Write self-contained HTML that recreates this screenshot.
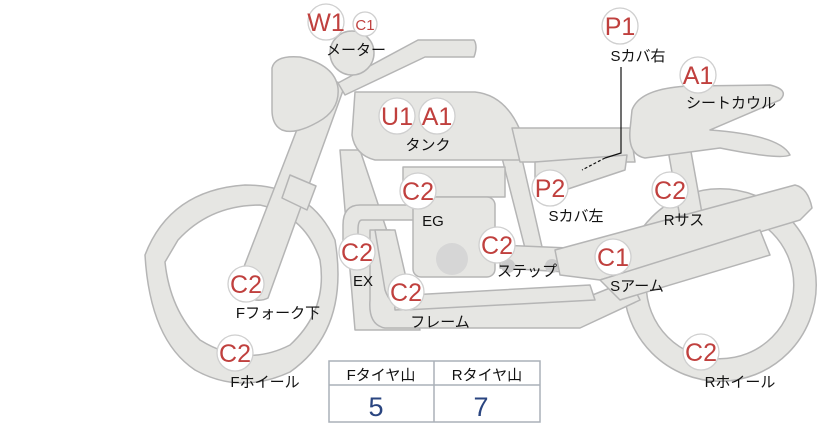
<!DOCTYPE html>
<html><head><meta charset="utf-8"><style>
html,body{margin:0;padding:0;background:#fff;}
svg{display:block}
text{font-family:"Liberation Sans","Noto Sans CJK JP",sans-serif}
.s{fill:#e6e6e3;stroke:#b5b5b5;stroke-width:1.5;stroke-linejoin:round}
.b{fill:#fff;stroke:#cfcfcf;stroke-width:1.3}
.bt{fill:#c0403e;font-size:25px;text-anchor:middle}
.l{fill:#111;font-size:15px;text-anchor:middle}
</style></head><body>
<svg width="822" height="425" viewBox="0 0 822 425" xmlns="http://www.w3.org/2000/svg">
<!-- front wheel -->
<path class="s" fill-rule="evenodd" d="M145,255 Q170,190 245,185 Q310,185 335,240 Q350,330 290,372 Q240,395 195,370 Q150,340 145,255 Z M165,262 Q170,310 200,340 Q245,368 290,345 Q328,310 320,260 Q305,215 260,205 Q210,205 178,240 L165,262 Z"/>
<!-- rear wheel -->
<circle cx="720" cy="285" r="85" fill="none" stroke="#b5b5b5" stroke-width="24"/>
<circle cx="720" cy="285" r="85" fill="none" stroke="#e6e6e3" stroke-width="21"/>
<!-- fork -->
<path class="s" d="M235,290 L318,75 L345,85 L268,298 Q255,305 235,290 Z"/>
<path class="s" d="M290,175 L316,186 L307,210 L282,198 Z"/>
<!-- frame rails -->
<path class="s" d="M340,150 L360,150 L420,330 L355,330 Z" />
<path class="s" d="M370,230 L390,230 L395,310 L580,300 L630,280 L640,300 L580,328 L385,328 Q368,325 370,300 Z"/>
<path class="s" d="M375,230 L395,230 L410,295 L590,285 L595,300 L405,310 Q390,305 385,290 Z"/>
<path class="s" d="M500,150 L520,150 L545,260 L528,260 Z"/>
<!-- exhaust -->
<path class="s" d="M343,225 Q343,205 360,205 L415,205 L415,220 L362,220 Q358,220 358,230 L358,262 L343,262 Z"/>
<!-- engine -->
<rect class="s" x="403" y="167" width="102" height="30"/>
<rect class="s" x="413" y="197" width="82" height="80" rx="8"/>
<circle cx="452" cy="259" r="16" fill="#d6d6d6"/>
<!-- step bar -->
<path class="s" d="M500,245 L615,250 L615,275 L500,268 Z"/>
<circle cx="508" cy="266" r="7" fill="#cbcbcb"/><circle cx="552" cy="266" r="7" fill="#cbcbcb"/>
<!-- headlight -->
<path class="s" d="M272,68 Q275,55 300,57 Q335,65 338,88 Q340,110 318,122 Q295,135 282,130 Q272,125 272,110 Z"/>
<!-- handlebar -->
<path class="s" d="M338,83 L418,40 L474,40 Q478,46 474,57 L425,57 L345,95 Z"/>
<circle class="s" cx="352" cy="53" r="22"/>
<!-- tank -->
<path class="s" d="M355,92 L475,92 Q505,95 520,130 L525,160 L375,160 Q355,155 352,135 Z"/>
<!-- seat -->
<path class="s" d="M512,128 L630,128 L635,162 L520,162 Z"/>
<path class="s" d="M535,162 L627,155 L625,170 L550,195 L535,195 Z"/>
<!-- shock -->
<path class="s" d="M668,150 L690,146 L710,258 L688,262 Z"/>
<!-- seat cowl -->
<path class="s" d="M632,110 Q640,88 690,86 L770,85 Q790,90 780,100 L710,130 Q780,135 790,155 Q780,160 720,148 L645,158 Q628,155 630,130 Z"/>
<!-- swingarm -->
<path class="s" d="M555,250 L795,185 Q808,188 812,208 L800,220 L600,280 L560,275 Z"/>
<path class="s" d="M600,280 L760,230 L770,255 L620,300 Z"/>
<!-- P1 line -->
<path d="M621,67 L621,153 L605,158" fill="none" stroke="#111" stroke-width="1.2"/>
<path d="M605,158 L582,170" fill="none" stroke="#111" stroke-width="1.2" stroke-dasharray="3,2"/>
<!-- badges -->
<g>
<circle class="b" cx="326" cy="22" r="18"/><text class="bt" x="326" y="31">W1</text>
<circle class="b" cx="365" cy="24" r="12"/><text class="bt" x="365" y="30" style="font-size:15px">C1</text>
<circle class="b" cx="397" cy="116" r="18"/><text class="bt" x="397" y="125">U1</text>
<circle class="b" cx="437" cy="116" r="18"/><text class="bt" x="437" y="125">A1</text>
<circle class="b" cx="620" cy="26" r="18"/><text class="bt" x="620" y="35">P1</text>
<circle class="b" cx="698" cy="75" r="18"/><text class="bt" x="698" y="84">A1</text>
<circle class="b" cx="418" cy="191" r="18"/><text class="bt" x="418" y="200">C2</text>
<circle class="b" cx="550" cy="188" r="18"/><text class="bt" x="550" y="197">P2</text>
<circle class="b" cx="670" cy="190" r="18"/><text class="bt" x="670" y="199">C2</text>
<circle class="b" cx="357" cy="252" r="18"/><text class="bt" x="357" y="261">C2</text>
<circle class="b" cx="497" cy="245" r="18"/><text class="bt" x="497" y="254">C2</text>
<circle class="b" cx="613" cy="257" r="18"/><text class="bt" x="613" y="266">C1</text>
<circle class="b" cx="246" cy="284" r="18"/><text class="bt" x="246" y="293">C2</text>
<circle class="b" cx="406" cy="292" r="18"/><text class="bt" x="406" y="301">C2</text>
<circle class="b" cx="235" cy="353" r="18"/><text class="bt" x="235" y="362">C2</text>
<circle class="b" cx="701" cy="352" r="18"/><text class="bt" x="701" y="361">C2</text>
</g>
<!-- labels -->
<text class="l" x="356" y="55">メーター</text>
<text class="l" x="428" y="150">タンク</text>
<text class="l" x="638" y="61">Sカバ右</text>
<text class="l" x="731" y="108">シートカウル</text>
<text class="l" x="433" y="226">EG</text>
<text class="l" x="576" y="221">Sカバ左</text>
<text class="l" x="684" y="225">Rサス</text>
<text class="l" x="363" y="286">EX</text>
<text class="l" x="527" y="276">ステップ</text>
<text class="l" x="637" y="291">Sアーム</text>
<text class="l" x="278" y="318">Fフォーク下</text>
<text class="l" x="440" y="327">フレーム</text>
<text class="l" x="265" y="387">Fホイール</text>
<text class="l" x="740" y="387">Rホイール</text>
<!-- table -->
<rect x="329" y="361" width="211" height="61" fill="#fff" stroke="#aab0b8" stroke-width="1.5"/>
<line x1="329" y1="385" x2="540" y2="385" stroke="#aab0b8" stroke-width="1.5"/>
<line x1="434" y1="361" x2="434" y2="422" stroke="#aab0b8" stroke-width="1.5"/>
<text class="l" x="381" y="380">Fタイヤ山</text>
<text class="l" x="487" y="380">Rタイヤ山</text>
<text x="376" y="416" style="fill:#2a4580;font-size:27px;text-anchor:middle">5</text>
<text x="481" y="416" style="fill:#2a4580;font-size:27px;text-anchor:middle">7</text>
</svg>
</body></html>
